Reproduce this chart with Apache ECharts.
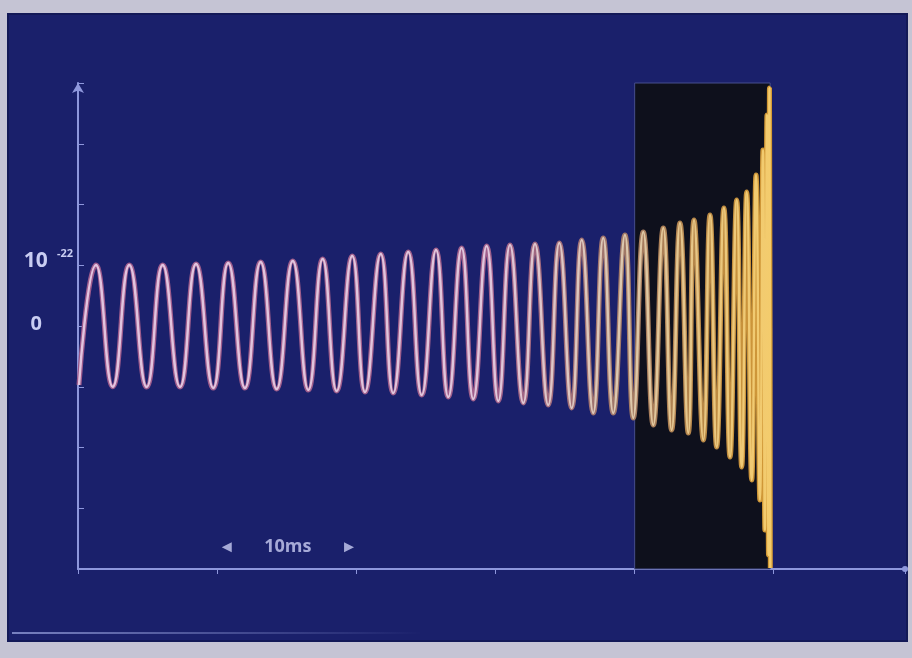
<!DOCTYPE html>
<html><head><meta charset="utf-8">
<script src="https://cdn.jsdelivr.net/npm/echarts@6/dist/echarts.min.js"></script>
<style>html,body{margin:0;padding:0;background:#c5c4d4}#c{width:912px;height:658px}</style>
</head><body><div id="c"></div>
<script>
// Extrema of the chirp waveform (time in ms, strain in axis units)
const timeMs = [0.07,1.29,2.50,3.69,4.94,6.09,7.34,8.49,9.73,10.81,12.01,13.14,14.29,15.45,16.57,17.60,18.61,19.73,20.65,21.78,22.68,23.76,24.73,25.76,26.64,27.60,28.44,29.40,30.24,31.08,32.04,32.88,33.83,34.63,35.52,36.24,37.07,37.79,38.51,39.35,39.95,40.67,41.39,42.11,42.71,43.31,43.91,44.32,44.99,45.47,45.95,46.47,46.91,47.39,47.75,48.11,48.47,48.78,49.06,49.28,49.42,49.57,49.68,49.75,49.81];
const strain = [-9.71,10.04,-9.99,10.04,-10.04,10.04,-10.04,10.21,-10.21,10.37,-10.21,10.53,-10.37,10.70,-10.53,11.03,-10.70,11.52,-10.86,11.85,-11.03,12.18,-11.36,12.51,-11.69,12.84,-12.02,13.17,-12.35,13.33,-12.67,13.50,-13.00,13.66,-13.50,14.16,-14.32,14.49,-14.32,14.98,-15.14,15.47,-16.30,16.13,-17.12,16.95,-17.61,17.45,-18.77,18.27,-19.92,19.42,-21.56,20.74,-23.21,22.06,-25.35,24.86,-28.64,28.97,-33.58,34.73,-37.70,39.18,-39.84];
const yLabelled = [0, 10];
const yExponent = '-22';
const shadedStart = 40.05, shadedEnd = 49.8;      // ms
const scaleBarFrom = 10.7, scaleBarTo = 19.5, scaleBarLevel = -36.4;
const scaleBarText = '10ms';

const chart = echarts.init(document.getElementById('c'));
const wave = timeMs.map((t, i) => [t, strain[i]]);
const grad = stops => new echarts.graphic.LinearGradient(0, 0, 1, 0, stops.map(s => ({offset: s[0], color: s[1]})));
const lineCol = '#8e97dc', txtCol = '#c9cdf2';

chart.setOption({
  backgroundColor: '#c5c4d4',
  animation: false,
  graphic: [
    {type: 'rect', z: -10, silent: true, shape: {x: 8, y: 14, width: 899, height: 627},
     style: {fill: '#1a206b', stroke: '#131957', lineWidth: 2}},
    {type: 'line', z: -9, silent: true, shape: {x1: 12, y1: 633, x2: 420, y2: 633},
     style: {stroke: new echarts.graphic.LinearGradient(0, 0, 1, 0, [{offset: 0, color: 'rgba(160,170,230,0.7)'}, {offset: 1, color: 'rgba(160,170,230,0)'}]), lineWidth: 2}}
  ],
  grid: {left: 78, right: 7, top: 83, bottom: 89},
  xAxis: {
    type: 'value', min: 0, max: 59.5, interval: 10,
    axisLine: {onZero: false, lineStyle: {color: lineCol, width: 2}, symbol: ['none', 'circle'], symbolSize: [6, 6]},
    axisTick: {show: true, length: 5, lineStyle: {color: lineCol, width: 1}},
    axisLabel: {show: false}, splitLine: {show: false}
  },
  yAxis: {
    type: 'value', min: -40, max: 40, interval: 10,
    axisLine: {lineStyle: {color: lineCol, width: 2}, symbol: ['none', 'arrow'], symbolSize: [9, 10]},
    axisTick: {show: true, inside: true, length: 6, lineStyle: {color: lineCol, width: 1}},
    splitLine: {show: false},
    axisLabel: {
      margin: 5, color: txtCol,
      formatter: v => {
        if (!yLabelled.includes(v)) return '';
        if (v === 0) return '{z|0}';
        return '{n|' + v + '}{s|' + yExponent + '}';
      },
      rich: {
        n: {fontSize: 21, fontWeight: 'bold', color: txtCol, fontFamily: 'Open Sans', padding: [0, 0, 8, 0]},
        z: {fontSize: 20, fontWeight: 'bold', color: txtCol, fontFamily: 'Open Sans', padding: [0, 31, 4, 0]},
        s: {fontSize: 11, fontWeight: 'bold', color: txtCol, fontFamily: 'Open Sans', padding: [0, 0, 22, 9]}
      }
    }
  },
  series: [
    {type: 'line', data: [], z: 1, silent: true,
     markArea: {silent: true, itemStyle: {color: '#0e101c', borderColor: '#464e8e', borderWidth: 1},
       data: [[{xAxis: shadedStart}, {xAxis: shadedEnd}]]}},
    {type: 'line', data: wave, z: 3, smooth: 0.5, showSymbol: false, silent: true,
     lineStyle: {width: 5, color: grad([[0, '#9c5a8c'], [0.6, '#a0608c'], [0.78, '#a07868'], [0.9, '#b88846'], [1, '#d49a34']])}},
    {type: 'line', data: wave, z: 4, smooth: 0.5, showSymbol: false, silent: true,
     lineStyle: {width: 2.4, color: grad([[0, '#e2c4e0'], [0.6, '#e0c6dc'], [0.78, '#dcc8b0'], [0.9, '#e8c682'], [1, '#f4cc6c']])}},
    {type: 'scatter', z: 5, silent: true,
     data: [
       {value: [scaleBarFrom, scaleBarLevel], symbol: 'triangle', symbolRotate: 90},
       {value: [scaleBarTo, scaleBarLevel], symbol: 'triangle', symbolRotate: -90},
       {value: [(scaleBarFrom + scaleBarTo) / 2, scaleBarLevel], symbolSize: 0,
        label: {show: true, position: 'inside', formatter: scaleBarText, color: txtCol, fontSize: 18, fontWeight: 'bold', fontFamily: 'Open Sans'}}
     ],
     symbolSize: 10, itemStyle: {color: txtCol}}
  ]
});
</script></body></html>
